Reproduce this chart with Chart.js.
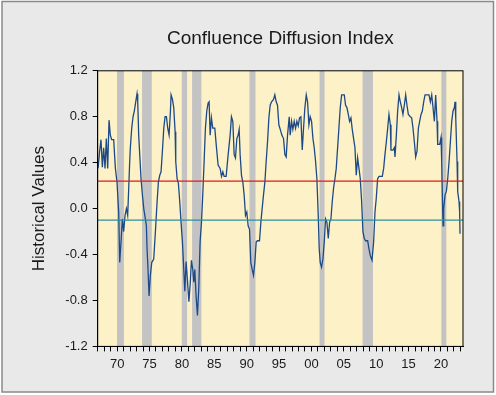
<!DOCTYPE html>
<html>
<head>
<meta charset="utf-8">
<title>Confluence Diffusion Index</title>
<script src="https://cdn.jsdelivr.net/npm/chart.js@4/dist/chart.umd.min.js"></script>
<style>
    html, body { margin: 0; padding: 0; background: #fff; }
    #wrap { width: 496px; height: 395px; }
</style>
</head>
<body>
<div id="wrap"><canvas id="chart" width="496" height="395"></canvas></div>
<script>
// Dados (ano decimal, valor do índice)
const dates = [
    1967.05, 1967.30, 1967.51, 1967.72, 1967.92, 1968.13, 1968.33, 1968.54, 1968.75, 1968.95,
    1969.16, 1969.47, 1969.73, 1969.98, 1970.24, 1970.40, 1970.60, 1970.81, 1971.01, 1971.22,
    1971.43, 1971.63, 1971.79, 1971.94, 1972.04, 1972.25, 1972.46, 1972.66, 1972.87, 1973.07,
    1973.18, 1973.33, 1973.49, 1973.69, 1973.90, 1974.11, 1974.36, 1974.52, 1974.62, 1974.77,
    1974.93, 1975.13, 1975.34, 1975.65, 1975.91, 1976.17, 1976.37, 1976.58, 1976.78, 1976.99,
    1977.20, 1977.40, 1977.61, 1977.81, 1978.02, 1978.23, 1978.33, 1978.54, 1978.74, 1978.95,
    1979.05, 1979.26, 1979.46, 1979.67, 1979.87, 1980.08, 1980.29, 1980.45, 1980.65, 1980.85,
    1981.08, 1981.30, 1981.47, 1981.68, 1981.83, 1981.99, 1982.19, 1982.40, 1982.60, 1982.81,
    1983.02, 1983.22, 1983.43, 1983.63, 1983.84, 1984.05, 1984.20, 1984.36, 1984.56, 1984.77,
    1985.08, 1985.34, 1985.59, 1985.90, 1986.11, 1986.32, 1986.52, 1986.83, 1987.14, 1987.45,
    1987.65, 1987.86, 1988.07, 1988.27, 1988.48, 1988.68, 1988.84, 1988.99, 1989.20, 1989.41,
    1989.61, 1989.82, 1990.02, 1990.23, 1990.44, 1990.64, 1990.85, 1991.05, 1991.26, 1991.47,
    1991.67, 1991.98, 1992.19, 1992.39, 1992.60, 1992.81, 1993.01, 1993.22, 1993.43, 1993.63,
    1993.84, 1994.15, 1994.35, 1994.56, 1994.76, 1994.97, 1995.18, 1995.43, 1995.69, 1995.90,
    1996.10, 1996.31, 1996.57, 1996.72, 1996.93, 1997.13, 1997.34, 1997.55, 1997.75, 1997.96,
    1998.16, 1998.37, 1998.58, 1998.78, 1998.99, 1999.20, 1999.40, 1999.61, 1999.81, 2000.02,
    2000.23, 2000.43, 2000.64, 2000.84, 2001.05, 2001.20, 2001.36, 2001.56, 2001.77, 2001.98,
    2002.18, 2002.39, 2002.60, 2002.80, 2003.01, 2003.21, 2003.42, 2003.63, 2003.83, 2004.04,
    2004.24, 2004.45, 2004.66, 2005.07, 2005.27, 2005.48, 2005.69, 2005.89, 2006.10, 2006.30,
    2006.51, 2006.72, 2006.92, 2007.13, 2007.34, 2007.54, 2007.75, 2007.95, 2008.16, 2008.37,
    2008.68, 2008.88, 2009.09, 2009.35, 2009.60, 2009.81, 2010.01, 2010.22, 2010.43, 2010.94,
    2011.15, 2011.35, 2011.56, 2011.77, 2011.97, 2012.18, 2012.28, 2012.59, 2012.80, 2012.90,
    2013.11, 2013.31, 2013.52, 2013.72, 2013.93, 2014.13, 2014.34, 2014.55, 2014.75, 2014.96,
    2015.27, 2015.47, 2015.68, 2015.89, 2016.09, 2016.30, 2016.51, 2016.71, 2016.92, 2017.12,
    2017.33, 2017.54, 2018.15, 2018.36, 2018.57, 2018.77, 2018.98, 2019.18, 2019.39, 2019.49,
    2019.80, 2020.01, 2020.11, 2020.21, 2020.32, 2020.42, 2020.63, 2020.83, 2021.04, 2021.25,
    2021.45, 2021.66, 2021.86, 2022.07, 2022.17, 2022.28, 2022.48, 2022.58, 2022.79, 2022.88,
    2022.94
];
const values = [
    0.35, 0.50, 0.60, 0.36, 0.53, 0.35, 0.61, 0.35, 0.77, 0.64,
    0.60, 0.60, 0.35, 0.23, -0.03, -0.47, -0.29, -0.09, -0.20, -0.06,
    0.00, -0.06, 0.18, 0.41, 0.53, 0.70, 0.80, 0.85, 0.93, 1.00,
    0.93, 0.64, 0.47, 0.26, 0.12, 0.00, -0.09, -0.15, -0.35, -0.53,
    -0.76, -0.58, -0.47, -0.44, -0.20, 0.06, 0.23, 0.29, 0.32, 0.50,
    0.70, 0.80, 0.80, 0.70, 0.64, 0.85, 0.99, 0.95, 0.88, 0.67,
    0.41, 0.26, 0.22, 0.06, -0.12, -0.29, -0.53, -0.72, -0.46, -0.62,
    -0.81, -0.64, -0.45, -0.53, -0.64, -0.53, -0.76, -0.93, -0.70, -0.29,
    -0.12, 0.12, 0.41, 0.70, 0.85, 0.92, 0.93, 0.64, 0.79, 0.70,
    0.70, 0.53, 0.38, 0.35, 0.28, 0.32, 0.28, 0.28, 0.47, 0.64,
    0.80, 0.76, 0.47, 0.44, 0.61, 0.64, 0.69, 0.47, 0.29, 0.23,
    0.12, -0.06, -0.03, -0.15, -0.18, -0.47, -0.53, -0.58, -0.47, -0.29,
    -0.28, -0.28, -0.12, 0.00, 0.12, 0.23, 0.41, 0.58, 0.79, 0.90,
    0.93, 0.95, 0.99, 0.93, 0.90, 0.73, 0.69, 0.64, 0.61, 0.47,
    0.45, 0.64, 0.80, 0.64, 0.76, 0.69, 0.76, 0.70, 0.76, 0.72,
    0.79, 0.80, 0.51, 0.70, 0.88, 0.99, 0.93, 0.73, 0.80, 0.76,
    0.61, 0.53, 0.41, 0.26, -0.06, -0.35, -0.47, -0.51, -0.44, -0.29,
    -0.09, -0.12, -0.26, -0.12, -0.09, 0.06, 0.18, 0.26, 0.35, 0.53,
    0.70, 0.88, 0.99, 0.99, 0.90, 0.88, 0.82, 0.76, 0.79, 0.69,
    0.61, 0.53, 0.29, 0.44, 0.35, 0.26, 0.06, -0.20, -0.26, -0.28,
    -0.28, -0.35, -0.41, -0.45, -0.29, -0.03, 0.09, 0.26, 0.28, 0.28,
    0.35, 0.47, 0.58, 0.70, 0.82, 0.73, 0.51, 0.51, 0.53, 0.45,
    0.64, 0.85, 0.99, 0.93, 0.88, 0.82, 0.90, 0.99, 0.90, 0.82,
    0.80, 0.79, 0.70, 0.58, 0.45, 0.50, 0.70, 0.76, 0.82, 0.85,
    0.93, 0.99, 0.99, 0.93, 0.99, 0.88, 0.76, 0.99, 0.76, 0.56,
    0.56, 0.62, 0.41, 0.12, -0.15, 0.00, 0.12, 0.15, 0.26, 0.41,
    0.58, 0.76, 0.85, 0.88, 0.93, 0.79, 0.41, 0.15, 0.06, -0.03,
    -0.22
];

// Linhas de referência horizontais
const upperLevel = 0.24;
const lowerLevel = -0.10;

// Períodos de recessão (início, fim) em anos decimais
const recessionStarts = [1969.98, 1973.85, 1979.98, 1981.57, 1990.43, 2001.25, 2007.90, 2020.06];
const recessionEnds   = [1971.05, 1975.35, 1980.80, 1983.01, 1991.36, 2002.02, 2009.50, 2020.83];

// Eixos
const xMin = 1967.0;
const xMax = 2023.4;
const xTickYears  = [1970, 1975, 1980, 1985, 1990, 1995, 2000, 2005, 2010, 2015, 2020];
const xTickLabels = ['70', '75', '80', '85', '90', '95', '00', '05', '10', '15', '20'];
const yTickValues = [-1.2, -0.8, -0.4, 0.0, 0.4, 0.8, 1.2];
const yTickLabels = ['-1.2', '-0.8', '-0.4', '0.0', '0.4', '0.8', '1.2'];

const chartTitle = 'Confluence Diffusion Index';
const yTitle = 'Historical Values';

const fontFamily = '"Liberation Sans", Arial, sans-serif';
const textColor = '#1a1a1a';

// Moldura, fundo da área do gráfico e faixas de recessão
const framePlugin = {
    id: 'frame',
    beforeDraw(chart) {
        const ctx = chart.ctx;
        const area = chart.chartArea;
        const x = chart.scales.x;

        ctx.save();
        ctx.fillStyle = '#ffffff';
        ctx.fillRect(0, 0, chart.width, chart.height);
        ctx.fillStyle = '#e9e9e9';
        ctx.fillRect(2, 1.5, 491.5, 390.5);
        ctx.strokeStyle = '#8a8a8a';
        ctx.lineWidth = 1.5;
        ctx.strokeRect(2, 1.5, 491.5, 390.5);

        ctx.fillStyle = '#fdf1c8';
        ctx.fillRect(area.left, area.top, area.right - area.left, area.bottom - area.top);

        ctx.fillStyle = '#c3c3c3';
        recessionStarts.forEach((start, i) => {
            const x0 = x.getPixelForValue(start);
            const x1 = x.getPixelForValue(recessionEnds[i]);
            ctx.fillRect(x0, area.top, x1 - x0, area.bottom - area.top);
        });
        ctx.restore();
    },
    afterDraw(chart) {
        const ctx = chart.ctx;
        const area = chart.chartArea;
        ctx.save();
        ctx.strokeStyle = '#000';
        ctx.lineWidth = 1;
        ctx.strokeRect(area.left, area.top, area.right - area.left, area.bottom - area.top);
        ctx.restore();
    }
};

function buildSeries() {
    return dates.map((d, i) => ({ x: d, y: values[i] }));
}

function levelLine(level) {
    return [{ x: xMin, y: level }, { x: xMax, y: level }];
}

// Um tick por ano no eixo x, rótulo só a cada 5 anos
function yearTicks() {
    const ticks = [];
    for (let yr = Math.ceil(xMin); yr <= Math.floor(xMax); yr++) {
        ticks.push({ value: yr });
    }
    return ticks;
}

const chart = new Chart(document.getElementById('chart'), {
    type: 'line',
    data: {
        datasets: [
            {
                data: buildSeries(),
                borderColor: '#1d4a86',
                borderWidth: 1.3,
                pointRadius: 0,
                tension: 0,
                order: 2
            },
            {
                data: levelLine(upperLevel),
                borderColor: '#e01a1a',
                borderWidth: 1.2,
                pointRadius: 0,
                order: 1
            },
            {
                data: levelLine(lowerLevel),
                borderColor: '#2a8f9c',
                borderWidth: 1.2,
                pointRadius: 0,
                order: 1
            }
        ]
    },
    options: {
        responsive: false,
        animation: false,
        devicePixelRatio: 1,
        layout: { padding: { left: 0, right: 33, top: 0, bottom: 18 } },
        plugins: {
            legend: { display: false },
            tooltip: { enabled: false },
            title: {
                display: true,
                text: chartTitle,
                fullSize: false,
                color: textColor,
                font: { family: fontFamily, size: 19, weight: 'normal' },
                padding: { top: 27, bottom: 21 }
            }
        },
        scales: {
            x: {
                type: 'linear',
                min: xMin,
                max: xMax,
                afterBuildTicks: scale => { scale.ticks = yearTicks(); },
                grid: { drawOnChartArea: false, drawTicks: true, tickLength: 5, color: '#000', lineWidth: 1 },
                border: { display: true, color: '#000', width: 1 },
                ticks: {
                    autoSkip: false,
                    maxRotation: 0,
                    padding: 5,
                    color: textColor,
                    font: { family: fontFamily, size: 13 },
                    callback: value => {
                        const idx = xTickYears.indexOf(value);
                        return idx >= 0 ? xTickLabels[idx] : '';
                    }
                }
            },
            y: {
                min: -1.2,
                max: 1.2,
                afterBuildTicks: scale => { scale.ticks = yTickValues.map(v => ({ value: v })); },
                afterFit: scale => { scale.width = 97.7; },
                grid: { drawOnChartArea: false, drawTicks: true, tickLength: 5, color: '#000', lineWidth: 1 },
                border: { display: true, color: '#000', width: 1 },
                ticks: {
                    padding: 5,
                    color: textColor,
                    font: { family: fontFamily, size: 13 },
                    callback: (value, index) => yTickLabels[index]
                },
                title: {
                    display: true,
                    text: yTitle,
                    color: textColor,
                    font: { family: fontFamily, size: 17 },
                    padding: { top: 29, bottom: 0 }
                }
            }
        }
    },
    plugins: [framePlugin]
});
</script>
</body>
</html>
